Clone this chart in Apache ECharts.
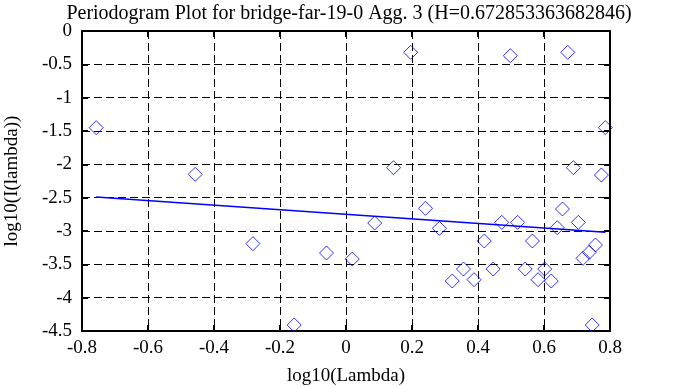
<!DOCTYPE html>
<html>
<head>
<meta charset="utf-8">
<script src="https://cdn.jsdelivr.net/npm/echarts@6/dist/echarts.min.js"></script>
<style>
html,body{margin:0;padding:0;background:#fff;}
#chart{width:678px;height:387px;}
</style>
</head>
<body>
<div id="chart"></div>
<script>
var titleText = 'Periodogram Plot for bridge-far-19-0 Agg. 3 (H=0.672853363682846)';
var xName = 'log10(Lambda)';
var yName = 'log10(I(lambda))';

var logLambda = [-0.757, -0.457, -0.282, -0.157, -0.059, 0.019, 0.087, 0.144, 0.196, 0.241,
  0.283, 0.322, 0.356, 0.388, 0.419, 0.446, 0.472, 0.498, 0.520, 0.543,
  0.565, 0.582, 0.602, 0.622, 0.640, 0.656, 0.672, 0.689, 0.704, 0.718,
  0.737, 0.746, 0.756, 0.774, 0.786];
var logI = [-1.45, -2.15, -3.19, -4.41, -3.33, -3.42, -2.88, -2.05, -0.32, -2.66,
  -2.96, -3.75, -3.57, -3.73, -3.15, -3.57, -2.87, -0.37, -2.87, -3.57,
  -3.15, -3.73, -3.57, -3.75, -2.95, -2.67, -0.32, -2.05, -2.87, -3.41,
  -3.32, -4.41, -3.21, -2.16, -1.45];

var fitX = [-0.757, 0.786];
var fitY = [-2.49, -3.02];

var points = logLambda.map(function (x, i) { return [x, logI[i]]; });
var fitLine = fitX.map(function (x, i) { return [x, fitY[i]]; });

var FONT = '"Liberation Serif", "Times New Roman", serif';
var chart = echarts.init(document.getElementById('chart'), null, {renderer: 'canvas'});

var gridLine = {show: true, lineStyle: {color: '#000', type: [8, 4], width: 1}};
var frameLine = {show: true, onZero: false, lineStyle: {color: '#000', width: 2}};
var tickIn = {show: true, inside: true, length: 6, lineStyle: {color: '#000', width: 2}};

chart.setOption({
  animation: false,
  backgroundColor: '#fff',
  title: {
    text: titleText,
    left: 344, top: -1, textAlign: 'center',
    textStyle: {fontFamily: FONT, fontSize: 20, fontWeight: 'normal', color: '#000'}
  },
  grid: {left: 82, right: 68, top: 31, bottom: 56, containLabel: false, outerBoundsMode: 'none'},
  xAxis: [{
    type: 'value', min: -0.8, max: 0.8, interval: 0.2,
    name: xName, nameLocation: 'middle', nameGap: 36,
    nameTextStyle: {fontFamily: FONT, fontSize: 19, color: '#000'},
    axisLine: frameLine, axisTick: tickIn, splitLine: gridLine,
    axisLabel: {fontFamily: FONT, fontSize: 19, color: '#000', margin: 8,
      formatter: function (v) { return String(Math.round(v * 10) / 10); }}
  }, {
    type: 'value', min: -0.8, max: 0.8, interval: 0.2, position: 'top',
    axisLine: frameLine, axisTick: tickIn, splitLine: {show: false}, axisLabel: {show: false}
  }],
  yAxis: [{
    type: 'value', min: -4.5, max: 0, interval: 0.5,
    name: yName, nameLocation: 'middle', nameGap: 60, nameRotate: 90,
    nameTextStyle: {fontFamily: FONT, fontSize: 19, color: '#000'},
    axisLine: frameLine, axisTick: tickIn, splitLine: gridLine,
    axisLabel: {fontFamily: FONT, fontSize: 19, color: '#000', margin: 10,
      formatter: function (v) { return String(Math.round(v * 10) / 10); }}
  }, {
    type: 'value', min: -4.5, max: 0, interval: 0.5, position: 'right',
    axisLine: frameLine, axisTick: tickIn, splitLine: {show: false}, axisLabel: {show: false}
  }],
  series: [{
    type: 'scatter',
    data: points,
    symbol: 'diamond',
    symbolSize: 14,
    itemStyle: {color: 'rgba(0,0,0,0)', borderColor: '#0000ff', borderWidth: 1},
    clip: false,
    z: 3
  }, {
    type: 'line',
    data: fitLine,
    symbol: 'none',
    lineStyle: {color: '#0000ff', width: 1.5},
    z: 4
  }]
});
</script>
</body>
</html>
